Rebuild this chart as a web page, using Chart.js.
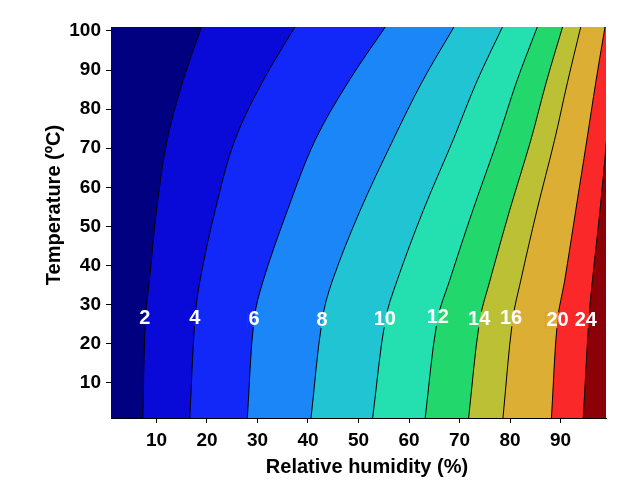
<!DOCTYPE html>
<html>
<head>
<meta charset="utf-8">
<script src="https://cdn.jsdelivr.net/npm/chart.js@4.4.1/dist/chart.umd.min.js"></script>
<style>
  html, body { margin: 0; padding: 0; background: #fff; }
</style>
</head>
<body>
<canvas id="chart" width="627" height="484"></canvas>
<script>
const temps = [1, 26, 36, 54, 72, 87, 101];
const levels = [2, 4, 6, 8, 10, 12, 14, 16, 20, 24];

// relative humidity (%) of each contour line at the temps above
const rh2  = [7.3, 7.8, 8.6, 10.0, 12.1, 15.2, 18.9];
const rh4  = [16.6, 17.6, 18.6, 21.6, 25.5, 31.0, 37.4];
const rh6  = [28.0, 29.3, 31.1, 35.9, 41.4, 48.0, 55.3];
const rh8  = [40.6, 42.8, 44.8, 50.3, 56.8, 62.6, 68.9];
const rh10 = [52.8, 55.3, 57.6, 62.8, 68.7, 73.4, 78.5];
const rh12 = [63.2, 65.6, 68.0, 72.6, 77.5, 81.3, 85.4];
const rh14 = [71.8, 74.0, 76.0, 79.9, 84.1, 87.2, 90.4];
const rh16 = [78.6, 80.5, 82.1, 85.3, 88.8, 91.4, 94.0];
const rh20 = [88.2, 89.4, 90.8, 93.0, 95.2, 97.0, 98.8];
const rh24 = [94.5, 95.6, 96.3, 97.8, 99.1, 99.9, 101.1];
const contourRH = [rh2, rh4, rh6, rh8, rh10, rh12, rh14, rh16, rh20, rh24];

// where the level labels sit
const labelRH = [7.7, 17.6, 29.3, 42.8, 55.2, 65.7, 73.9, 80.2, 89.4, 95.0];
const labelT  = [26.5, 26.5, 26.3, 26.0, 26.2, 26.6, 26.2, 26.5, 26.0, 26.0];

const xTicks = [10, 20, 30, 40, 50, 60, 70, 80, 90];
const yTicks = [10, 20, 30, 40, 50, 60, 70, 80, 90, 100];
const xMin = 1, xMax = 99, yMin = 1, yMax = 101;

// band colours, left to right (last one is above the top level)
const bandColors = ['#000080', '#0a0ad8', '#1228f8', '#1a86f8', '#20c4d2', '#24e0b0',
                    '#22d86c', '#bcc034', '#dcae34', '#fa2828', '#8c0008'];

const FONT = "'Liberation Sans', Arial, sans-serif";

const background = {
    id: 'background',
    beforeDatasetsDraw(chart) {
        const a = chart.chartArea, ctx = chart.ctx;
        ctx.save();
        ctx.fillStyle = bandColors[bandColors.length - 1];
        ctx.fillRect(a.left, a.top, a.right - a.left, a.bottom - a.top);
        ctx.restore();
    }
};

// inline labels: break the contour line under the text, then write the level
const contourLabels = {
    id: 'contourLabels',
    afterDatasetsDraw(chart) {
        const ctx = chart.ctx, xs = chart.scales.x, ys = chart.scales.y, a = chart.chartArea;
        ctx.save();
        ctx.font = 'bold 20px ' + FONT;
        ctx.textAlign = 'center';
        ctx.textBaseline = 'middle';
        levels.forEach((lv, i) => {
            const txt = String(lv);
            const px = xs.getPixelForValue(labelRH[i]);
            const py = ys.getPixelForValue(labelT[i]);
            const w = ctx.measureText(txt).width + 2, h = 16;
            const line = chart.getDatasetMeta(i).dataset;
            const pts = line.points;

            ctx.save();
            ctx.beginPath();
            ctx.rect(px - w / 2, py - h / 2, w, h);
            ctx.clip();
            ctx.fillStyle = bandColors[i + 1];
            ctx.fillRect(px - w / 2, py - h / 2, w, h);
            ctx.beginPath();
            line.path(ctx);
            ctx.lineTo(a.left, pts[pts.length - 1].y);
            ctx.lineTo(a.left, pts[0].y);
            ctx.closePath();
            ctx.fillStyle = bandColors[i];
            ctx.fill();
            ctx.restore();

            ctx.fillStyle = '#fff';
            ctx.fillText(txt, px, py);
        });
        ctx.restore();
    }
};

const axisTitles = {
    id: 'axisTitles',
    afterDraw(chart) {
        const ctx = chart.ctx;
        ctx.save();
        ctx.fillStyle = '#000';
        ctx.font = 'bold 20px ' + FONT;
        ctx.textAlign = 'center';
        ctx.textBaseline = 'alphabetic';
        ctx.fillText('Relative humidity (%)', 367, 473);
        ctx.translate(60, 205);
        ctx.rotate(-Math.PI / 2);
        ctx.fillText('Temperature (ºC)', 0, 0);
        ctx.restore();
    }
};

new Chart(document.getElementById('chart'), {
    type: 'line',
    data: {
        datasets: contourRH.map((arr, i) => ({
            label: String(levels[i]),
            data: arr.map((rh, j) => ({ x: rh, y: temps[j] })),
            borderColor: '#000',
            borderWidth: 1,
            backgroundColor: bandColors[i],
            fill: { value: xMin },
            tension: 0.35,
            pointRadius: 0
        }))
    },
    options: {
        responsive: false,
        animation: false,
        devicePixelRatio: 1,
        indexAxis: 'y',
        layout: { padding: { top: 27, right: 21, left: 0, bottom: 0 } },
        plugins: { legend: { display: false }, tooltip: { enabled: false } },
        scales: {
            x: {
                type: 'linear', min: xMin, max: xMax,
                afterFit: s => { s.height = 66; },
                afterBuildTicks: s => { s.ticks = xTicks.map(v => ({ value: v })); },
                grid: { drawOnChartArea: false, tickLength: 5, color: '#000' },
                border: { color: '#000', width: 1 },
                ticks: { color: '#000', padding: 6, maxRotation: 0, autoSkip: false,
                         font: { family: FONT, size: 19, weight: 'bold' } }
            },
            y: {
                type: 'linear', min: yMin, max: yMax,
                afterFit: s => { s.width = 111; },
                afterBuildTicks: s => { s.ticks = yTicks.map(v => ({ value: v })); },
                grid: { drawOnChartArea: false, tickLength: 5, color: '#000' },
                border: { color: '#000', width: 1 },
                ticks: { color: '#000', padding: 5, autoSkip: false,
                         font: { family: FONT, size: 19, weight: 'bold' } }
            }
        }
    },
    plugins: [background, contourLabels, axisTitles]
});
</script>
</body>
</html>
